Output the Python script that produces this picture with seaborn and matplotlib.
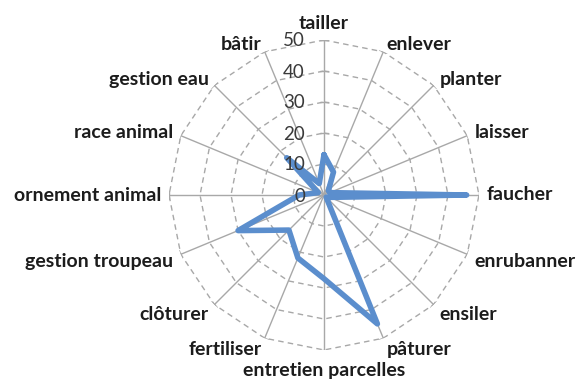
import numpy as np
import pandas as pd
import matplotlib
matplotlib.use("Agg")
import matplotlib.pyplot as plt
import seaborn as sns

# Activities (clockwise from the top) and their scores
categories = [
    "tailler", "enlever", "planter", "laisser", "faucher", "enrubanner",
    "ensiler", "pâturer", "entretien parcelles", "fertiliser", "clôturer",
    "gestion troupeau", "ornement animal", "race animal", "gestion eau", "bâtir",
]
values = [13, 8, 2, 2, 46, 2, 1, 45, 27, 22, 16, 30, 8, 2, 17, 4]
levels = [0, 10, 20, 30, 40, 50]
tick_labels = ["0", "10", "20", "30", "40", "50"]

sns.set_theme(style="white")
plt.rcParams["font.family"] = ["Lato", "DejaVu Sans"]

rmax = levels[-1]
n = len(categories)
angles = np.arange(n) * 2 * np.pi / n
closed_angles = np.append(angles, angles[0])

fig = plt.figure(figsize=(5.76, 3.83), dpi=100)
ax = fig.add_axes([169 / 576, 33 / 383, 310 / 576, 310 / 383], polar=True)
ax.set_theta_zero_location("N")
ax.set_theta_direction(-1)
ax.set_facecolor("none")

grid_color = "#a8a8a8"

# Polygonal dashed rings
for lv in levels[1:]:
    ax.plot(closed_angles, [lv] * (n + 1), color=grid_color, lw=1.0,
            ls=(0, (4, 3)), zorder=1)

# Spokes
for a in angles:
    ax.plot([a, a], [0, rmax], color=grid_color, lw=1.0, zorder=1)

# Small perpendicular tick marks at the spoke ends and on the value axis
half = 1.3
for a in angles:
    d = np.arctan(half / rmax)
    r = np.hypot(rmax, half)
    ax.plot([a - d, a + d], [r, r], color=grid_color, lw=1.0, zorder=1)
for lv in levels[1:]:
    d = np.arctan(half / lv)
    r = np.hypot(lv, half)
    ax.plot([-d, d], [r, r], color=grid_color, lw=1.0, zorder=1)

# Data line
df = pd.DataFrame({"angle": closed_angles, "value": values + [values[0]]})
sns.lineplot(data=df, x="angle", y="value", sort=False, estimator=None,
             ax=ax, color="#5b8ecd", lw=4.0, zorder=3,
             solid_joinstyle="round", solid_capstyle="round")

ax.set_ylim(0, rmax)
ax.grid(False)
ax.spines["polar"].set_visible(False)
ax.set_xticks([])
ax.set_yticks([])
ax.set_xlabel("")
ax.set_ylabel("")

# Category labels around the chart
for a, lab in zip(angles, categories):
    s, c = np.sin(a), np.cos(a)
    ha = "left" if s > 0.1 else ("right" if s < -0.1 else "center")
    if c > 0.95:
        va, off = "bottom", (0, 8)
    elif c < -0.95:
        va, off = "top", (0, -12)
    else:
        va = "center"
        off = (8 * s, 8 * c - (4 if c < -0.1 else 0))
    ax.annotate(lab, xy=(a, rmax), xytext=off, textcoords="offset pixels",
                ha=ha, va=va, fontsize=14, fontweight="bold",
                color="#1c1c1c", annotation_clip=False, zorder=4)

# Value axis labels
for lv, t in zip(levels, tick_labels):
    ax.annotate(t, xy=(0, lv), xytext=(-19, -1), textcoords="offset pixels",
                ha="right", va="center", fontsize=13.5, color="#3a3a3a",
                annotation_clip=False, zorder=4)

fig.savefig("out.png", dpi=100)
